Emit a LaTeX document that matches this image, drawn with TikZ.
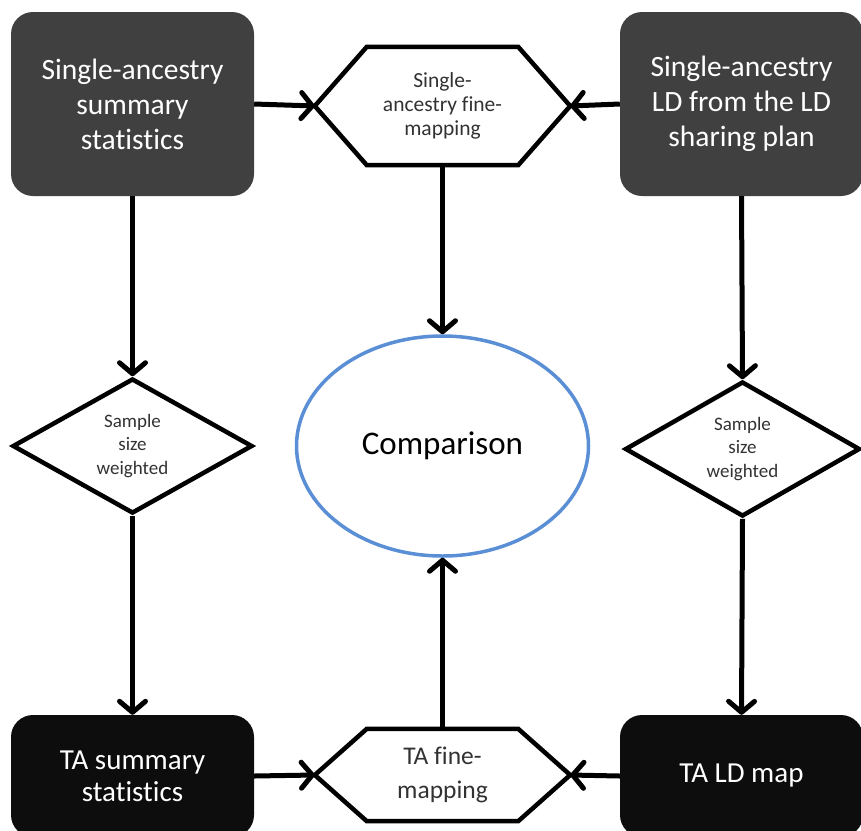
\documentclass[tikz,border=0pt]{standalone}
\usepackage{fontspec}
\setmainfont{Carlito}[RawFeature={-liga;-clig;-dlig;-calt}]
\usepackage{tikz}
\usetikzlibrary{arrows.meta,shapes.geometric}
\definecolor{boxgrey}{RGB}{64,64,64}
\definecolor{boxblack}{RGB}{13,13,13}
\definecolor{cmpblue}{RGB}{91,143,213}
\definecolor{txtgrey}{RGB}{50,50,50}
\tikzset{
 fm input/.style={rectangle,rounded corners=22pt,fill=boxgrey,text=white,
                  minimum width=243pt,minimum height=184pt,align=center,
                  font=\fontsize{29.5}{35}\selectfont},
 fm output/.style={fm input,fill=boxblack,minimum height=122pt,
                   font=\fontsize{29}{32}\selectfont},
 fm hex/.style={rectangle,minimum width=255pt,align=center,text=txtgrey,
                inner sep=0pt},
 fm weight/.style={diamond,draw=black,line width=4.5pt,align=center,
                   text=txtgrey,inner sep=0pt,
                   font=\fontsize{19}{23.5}\selectfont},
 fm compare/.style={ellipse,draw=cmpblue,line width=3.5pt,
                    minimum width=292pt,minimum height=220pt,
                    font=\fontsize{33}{38}\selectfont},
 fm arrow/.style={line width=5pt,
                  -{Straight Barb[length=11pt,width=26pt,round]}}
}
\begin{document}
\begin{tikzpicture}[x=1pt,y=-1pt]
 \path[use as bounding box,clip] (0,0) rectangle (861,830);

 \node[fm input] (saSum) at (132.5,104) {Single-ancestry\\summary\\statistics};
 \node[fm input] (saLD) at (741.5,104) {Single-ancestry\\LD from the LD\\sharing plan};
 \node[fm hex,minimum height=118pt,font=\fontsize{21.5}{24}\selectfont]
   (hexTop) at (442.5,106) {Single-\\ancestry fine-\\mapping};

 \node[fm compare] (cmp) at (442.5,446) {Comparison};
 \node[fm weight,minimum width=240pt,minimum height=122pt]
   (wL) at (132.5,446) {Sample\\size\\weighted};
 \node[fm weight,minimum width=235pt,minimum height=118pt]
   (wR) at (742.5,449) {Sample\\size\\weighted};

 \node[fm output] (taSum) at (132.5,776) {TA summary\\statistics};
 \node[fm output] (taLD) at (741.5,776) {TA LD map};
 \node[fm hex,minimum height=92pt,font=\fontsize{25.5}{34}\selectfont]
   (hexBot) at (442.5,775) {TA fine-\\mapping};

 % hexagon outlines
 \foreach \h in {hexTop,hexBot}
  \draw[line width=4.5pt,line join=miter] (\h.west)
    -- ([xshift=52pt]\h.north west) -- ([xshift=-52pt]\h.north east)
    -- (\h.east) -- ([xshift=-52pt]\h.south east)
    -- ([xshift=52pt]\h.south west) -- cycle;

 \draw[fm arrow] (saSum.east) -- (hexTop.west);
 \draw[fm arrow] (saLD.west) -- (hexTop.east);
 \draw[fm arrow] (hexTop.south) -- (cmp.north);
 \draw[fm arrow] (saSum.south) -- (wL.north);
 \draw[fm arrow] (wL.south) -- (taSum.north);
 \draw[fm arrow] (saLD.south) -- (wR.north);
 \draw[fm arrow] (wR.south) -- (taLD.north);
 \draw[fm arrow] (taSum.east) -- (hexBot.west);
 \draw[fm arrow] (taLD.west) -- (hexBot.east);
 \draw[fm arrow] (hexBot.north) -- (cmp.south);
\end{tikzpicture}
\end{document}
